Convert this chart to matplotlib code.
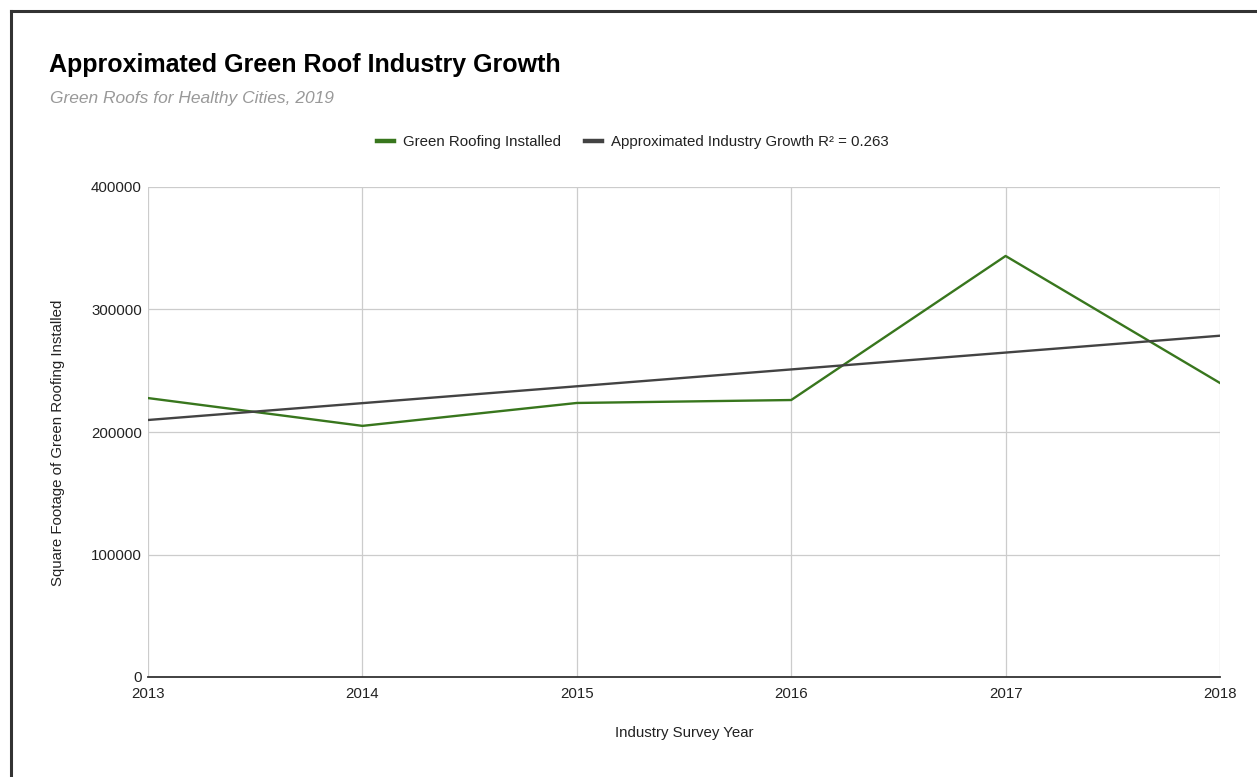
import matplotlib
matplotlib.use("Agg")
import matplotlib.pyplot as plt
from matplotlib.lines import Line2D

years = [2013, 2014, 2015, 2016, 2017, 2018]
installed = [227700, 205000, 223700, 226100, 343700, 240000]
trend_years = [2013, 2018]
trend_values = [209800, 278600]
y_ticks = [0, 100000, 200000, 300000, 400000]

title = "Approximated Green Roof Industry Growth"
subtitle = "Green Roofs for Healthy Cities, 2019"
series_names = ["Green Roofing Installed", "Approximated Industry Growth R² = 0.263"]
x_label = "Industry Survey Year"
y_label = "Square Footage of Green Roofing Installed"

green = "#38761d"
dark = "#434343"

plt.rcParams['font.family'] = ['Liberation Sans', 'DejaVu Sans']

W, H = 1257, 777
fig = plt.figure(figsize=(W / 100, H / 100), dpi=100)
fig.patch.set_facecolor("white")

ax = fig.add_axes([148 / W, 1 - 677 / H, (1220 - 148) / W, (677 - 187) / H])
ax.plot(years, installed, color=green, lw=1.7, zorder=3)
ax.plot(trend_years, trend_values, color=dark, lw=1.7, zorder=3)

ax.set_xlim(2013, 2018)
ax.set_ylim(0, 400000)
ax.set_xticks(years)
ax.set_xticklabels([str(y) for y in years])
ax.set_yticks(y_ticks)
ax.set_yticklabels([str(v) for v in y_ticks])
ax.grid(True, color="#cccccc", lw=0.9, zorder=0)
for s in ["top", "right", "left"]:
    ax.spines[s].set_visible(False)
ax.spines["bottom"].set_color("#333333")
ax.spines["bottom"].set_linewidth(1.3)
ax.spines["bottom"].set_zorder(4)
ax.tick_params(length=0, labelsize=10.8, colors="#222222")
ax.tick_params(axis="y", pad=4.5)
ax.tick_params(axis="x", pad=7)

fig.text(49 / W, 1 - 65 / H, title, fontsize=18, fontweight="bold", color="#000000",
         ha="left", va="center")
fig.text(50 / W, 1 - 99 / H, subtitle, fontsize=12.5, style="italic", color="#999999",
         ha="left", va="center")
fig.text(684 / W, 1 - 733 / H, x_label, fontsize=10.8, color="#222222", ha="center", va="center")
fig.text(58 / W, 1 - 443 / H, y_label, fontsize=10.8, color="#222222", ha="center", va="center",
         rotation=90)

handles = [Line2D([0], [0], color=green, lw=3.2), Line2D([0], [0], color=dark, lw=3.2)]
leg = fig.legend(handles, series_names, loc="center", bbox_to_anchor=(633 / W, 1 - 142 / H),
                 ncol=2, frameon=False, fontsize=10.8, handlelength=1.13, handletextpad=0.6,
                 columnspacing=1.6, labelcolor="#222222")

# outer frame (top and left edges)
fig.add_artist(Line2D([10.5 / W, 1], [1 - 10.5 / H, 1 - 10.5 / H], transform=fig.transFigure,
                      color="#333333", lw=2.2, solid_capstyle="projecting"))
fig.add_artist(Line2D([10.5 / W, 10.5 / W], [0, 1 - 10.5 / H], transform=fig.transFigure,
                      color="#333333", lw=2.2, solid_capstyle="projecting"))

fig.savefig("out.png", dpi=100)
